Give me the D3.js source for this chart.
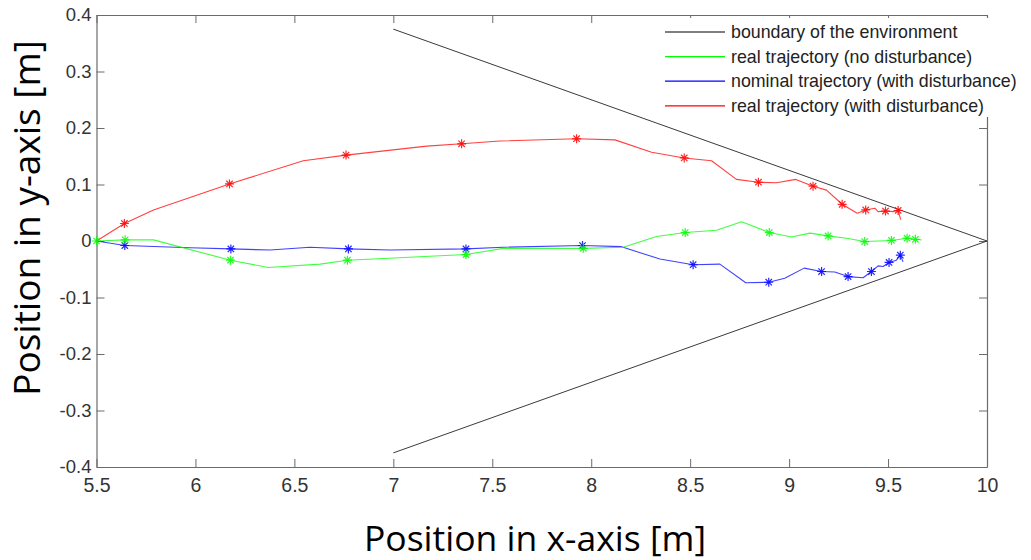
<!DOCTYPE html>
<html>
<head>
<meta charset="utf-8">
<script src="https://cdn.jsdelivr.net/npm/d3@7/dist/d3.min.js"></script>
<style>
  html, body { margin: 0; padding: 0; background: #fff; }
  svg { display: block; }
</style>
</head>
<body>
<svg id="chart" width="1031" height="560"></svg>
<script>
// Axis ticks
const xTicks = [5.5, 6, 6.5, 7, 7.5, 8, 8.5, 9, 9.5, 10];
const yTicks = [-0.4, -0.3, -0.2, -0.1, 0, 0.1, 0.2, 0.3, 0.4];

// Environment boundary (wedge)
const boundary = [[7, 0.375], [10, 0], [7, -0.375]];

// Trajectories: [x, y, marker]
const realNoDisturbance = [
  [5.5, 0, 1], [5.645, 0.002, 1], [5.788, 0.002, 0], [6.177, -0.034, 1], [6.369, -0.047, 0],
  [6.63, -0.041, 0], [6.768, -0.034, 1], [7.367, -0.024, 1], [7.556, -0.013, 0], [7.96, -0.013, 1],
  [8.162, -0.011, 0], [8.33, 0.008, 0], [8.475, 0.015, 1], [8.633, 0.019, 0], [8.76, 0.034, 0],
  [8.9, 0.015, 1], [9.012, 0.007, 0], [9.105, 0.014, 0], [9.197, 0.009, 1], [9.29, 0.005, 0],
  [9.382, -0.001, 1], [9.517, 0.001, 1], [9.596, 0.005, 1], [9.638, 0.003, 1], [9.669, 0.002, 0]
];
const nominalDisturbance = [
  [5.5, 0, 0], [5.643, -0.008, 1], [5.973, -0.012, 0], [6.179, -0.014, 1], [6.377, -0.016, 0],
  [6.579, -0.011, 0], [6.773, -0.014, 1], [6.983, -0.016, 0], [7.367, -0.014, 1], [7.556, -0.011, 0],
  [7.956, -0.008, 1], [8.153, -0.010, 0], [8.347, -0.032, 0], [8.515, -0.042, 1], [8.65, -0.041, 0],
  [8.781, -0.074, 0], [8.897, -0.073, 1], [8.978, -0.066, 0], [9.076, -0.048, 0], [9.164, -0.054, 1],
  [9.231, -0.055, 0], [9.298, -0.063, 1], [9.374, -0.065, 0], [9.416, -0.054, 1], [9.45, -0.044, 0],
  [9.475, -0.045, 0], [9.505, -0.038, 1], [9.542, -0.034, 0], [9.562, -0.025, 1], [9.576, -0.037, 0]
];
const realDisturbance = [
  [5.5, 0, 0], [5.641, 0.031, 1], [5.788, 0.055, 0], [6.172, 0.101, 1], [6.545, 0.142, 0],
  [6.761, 0.152, 1], [7.169, 0.168, 0], [7.345, 0.172, 1], [7.539, 0.177, 0], [7.926, 0.181, 1],
  [8.12, 0.179, 0], [8.305, 0.157, 0], [8.47, 0.147, 1], [8.608, 0.142, 0], [8.734, 0.109, 0],
  [8.845, 0.104, 1], [8.936, 0.103, 0], [9.034, 0.109, 0], [9.121, 0.097, 1], [9.189, 0.090, 0],
  [9.268, 0.065, 1], [9.344, 0.049, 0], [9.387, 0.055, 1], [9.433, 0.058, 0], [9.45, 0.052, 0],
  [9.487, 0.053, 1], [9.525, 0.052, 0], [9.551, 0.054, 1], [9.564, 0.038, 0]
];

const legendLabels = [
  "boundary of the environment",
  "real trajectory (no disturbance)",
  "nominal trajectory (with disturbance)",
  "real trajectory (with disturbance)"
];
const legendColors = ["#000000", "#00ff00", "#0000ff", "#ff0000"];

const svg = d3.select("#chart");
const plotLeft = 96.5, plotRight = 987, plotTop = 15, plotBottom = 467;

const x = d3.scaleLinear().domain([5.5, 10]).range([plotLeft, plotRight]);
const y = d3.scaleLinear().domain([-0.4, 0.4]).range([plotBottom, plotTop]);

const axisColor = "#6b6b6b";
const tickFont = "'Liberation Sans', Arial, sans-serif";
const plainNumber = d => String(d);

// Axes with inward ticks on all four sides
function styleAxis(size) {
  return g => {
    g.selectAll(".domain").attr("stroke", axisColor).attr("stroke-width", 1.2);
    g.selectAll(".tick line").attr("stroke", axisColor).attr("stroke-width", 1);
    g.selectAll(".tick text").attr("fill", "#333").style("font-family", tickFont).style("font-size", size);
  };
}

svg.append("g").attr("transform", `translate(0,${plotBottom})`)
  .call(d3.axisBottom(x).tickValues(xTicks).tickSizeInner(-8).tickSizeOuter(0).tickPadding(11).tickFormat(plainNumber))
  .call(styleAxis("19.5px"));
svg.append("g").attr("transform", `translate(0,${plotTop})`)
  .call(d3.axisTop(x).tickValues(xTicks).tickSizeInner(-8).tickSizeOuter(0).tickFormat(""))
  .call(styleAxis("19px"));
svg.append("g").attr("transform", `translate(${plotLeft},0)`)
  .call(d3.axisLeft(y).tickValues(yTicks).tickSizeInner(-8).tickSizeOuter(0).tickPadding(5).tickFormat(plainNumber))
  .call(styleAxis("18.5px"));
svg.append("g").attr("transform", `translate(${plotRight},0)`)
  .call(d3.axisRight(y).tickValues(yTicks).tickSizeInner(-8).tickSizeOuter(0).tickFormat(""))
  .call(styleAxis("18px"));

// Boundary wedge
const line = d3.line().x(d => x(d[0])).y(d => y(d[1]));
svg.append("path").datum(boundary)
  .attr("d", line).attr("fill", "none").attr("stroke", "#3a3a3a").attr("stroke-width", 1);

// Asterisk marker (plus + cross)
const markerPath = "M-4.5,0H4.5M0,-4.5V4.5M-3.2,-3.2L3.2,3.2M-3.2,3.2L3.2,-3.2";

function drawSeries(data, color) {
  const g = svg.append("g");
  g.append("path").datum(data)
    .attr("d", line).attr("fill", "none").attr("stroke", color)
    .attr("stroke-width", 1.1).attr("stroke-opacity", 0.75).attr("stroke-linejoin", "round");
  g.selectAll("path.mk").data(data.filter(d => d[2]))
    .enter().append("path").attr("class", "mk")
    .attr("transform", d => `translate(${x(d[0])},${y(d[1])})`)
    .attr("d", markerPath).attr("stroke", color).attr("stroke-width", 1.2).attr("stroke-opacity", 0.85);
}
drawSeries(realDisturbance, "#ff0000");
drawSeries(nominalDisturbance, "#0000ff");
drawSeries(realNoDisturbance, "#00ff00");

// Legend
const lg = svg.append("g");
lg.append("rect").attr("x", 660).attr("y", 18).attr("width", 371).attr("height", 99).attr("fill", "#fff");
legendLabels.forEach((label, i) => {
  const yy = 32 + i * 24.6;
  lg.append("line").attr("x1", 665).attr("x2", 725).attr("y1", yy).attr("y2", yy)
    .attr("stroke", legendColors[i]).attr("stroke-width", 1.2);
  lg.append("text").attr("x", 731).attr("y", yy).attr("dy", "0.35em")
    .attr("fill", "#222").style("font-family", tickFont).style("font-size", "17.8px")
    .text(label);
});

// Axis titles
svg.append("text").attr("x", 535).attr("y", 551).attr("text-anchor", "middle")
  .style("font-family", "'Open Sans', 'Noto Sans', sans-serif").style("font-size", "35.5px").attr("fill", "#000")
  .text("Position in x-axis [m]");
svg.append("text").attr("transform", "translate(40,218) rotate(-90)").attr("text-anchor", "middle")
  .style("font-family", "'Open Sans', 'Noto Sans', sans-serif").style("font-size", "37px").attr("fill", "#000")
  .text("Position in y-axis [m]");
</script>
</body>
</html>
